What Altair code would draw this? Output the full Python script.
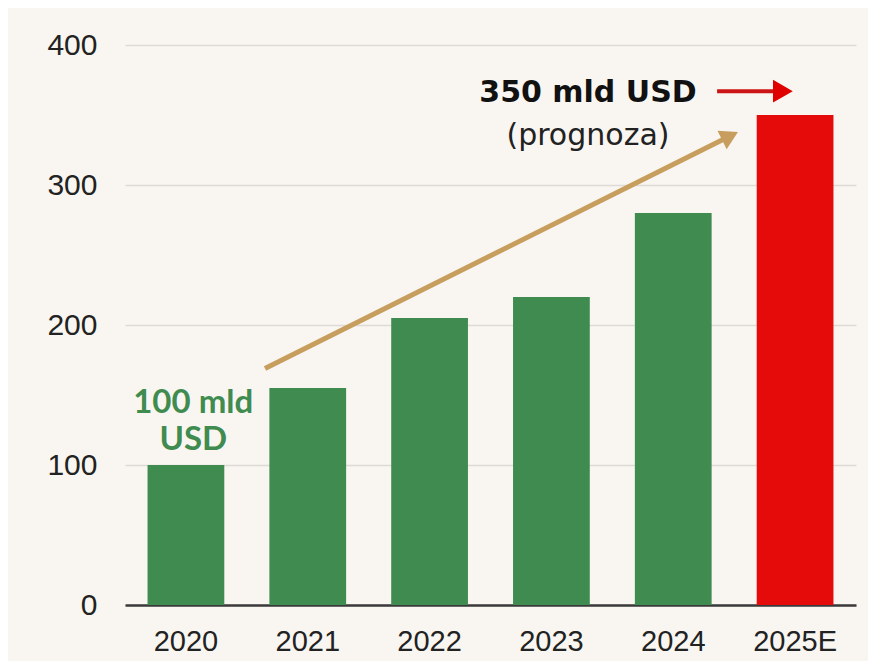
import altair as alt
import pandas as pd

# ---- data ----
years = ["2020", "2021", "2022", "2023", "2024", "2025E"]
values = [100, 155, 205, 220, 280, 350]
bar_colors = ["#3f8b50", "#3f8b50", "#3f8b50", "#3f8b50", "#3f8b50", "#e50b0b"]
y_ticks = [0, 100, 200, 300, 400]

# annotations in category-index units (band i centre = i + 0.5) and value units
green_label_lines = ["100 mld", "USD"]
green_label_x = [0.56, 0.56]
green_label_y = [144, 118]

forecast_label = ["350 mld USD"]
forecast_x = [3.80]
forecast_y = [366]
forecast_sub = ["(prognoza)"]
forecast_sub_x = [3.80]
forecast_sub_y = [335]

trend_x = [1.149, 4.966]
trend_y = [169, 335]
trend_head_x = [4.966]
trend_head_y = [335]

red_arrow_x = [4.86, 5.40]
red_arrow_y = [367, 367]
red_head_x = [5.40]
red_head_y = [367]

BG = "#f9f6f1"

bars_df = pd.DataFrame({"year": years, "value": values, "color": bar_colors})

xq = alt.Scale(domain=[0, 6], nice=False, zero=False)
yq = alt.Scale(domain=[0, 400], nice=False)

y_axis = alt.Axis(title=None, values=y_ticks, labelFont="Liberation Sans, Arial, sans-serif",
                  labelFontSize=30, labelColor="#222", labelPadding=28,
                  ticks=False, domain=False, grid=True, gridColor="#dedbd6", gridWidth=1.5)

bars = alt.Chart(bars_df).mark_bar().encode(
    x=alt.X("year:N", sort=years,
            scale=alt.Scale(paddingInner=0.37, paddingOuter=0.185),
            axis=alt.Axis(title=None, labelAngle=0,
                          labelFont="Liberation Sans Narrow, Arial Narrow, Liberation Sans, sans-serif",
                          labelFontSize=29, labelColor="#222", labelPadding=22,
                          ticks=False, domain=True, domainColor="#3a3a3a", domainWidth=2.5)),
    y=alt.Y("value:Q", scale=yq, axis=y_axis),
    color=alt.Color("color:N", scale=None),
)

def pts(xs, ys, **extra):
    d = {"x": xs, "y": ys}
    d.update(extra)
    return pd.DataFrame(d)

def enc_x():
    return alt.X("x:Q", scale=xq, axis=None)

def enc_y():
    return alt.Y("y:Q", scale=yq, axis=y_axis)

trend_line = alt.Chart(pts(trend_x, trend_y)).mark_line(color="#c79e5e", strokeWidth=5).encode(
    x=enc_x(), y=enc_y())
trend_head = alt.Chart(pts(trend_head_x, trend_head_y)).mark_point(
    shape="triangle-right", filled=True, size=420, angle=333.5, color="#c79e5e", opacity=1).encode(
    x=enc_x(), y=enc_y())

red_line = alt.Chart(pts(red_arrow_x, red_arrow_y)).mark_line(color="#cc1414", strokeWidth=4).encode(
    x=enc_x(), y=enc_y())
red_head = alt.Chart(pts(red_head_x, red_head_y)).mark_point(
    shape="triangle-right", filled=True, size=520, color="#e00000", opacity=1).encode(
    x=enc_x(), y=enc_y())

green_text = alt.Chart(pts(green_label_x, green_label_y, t=green_label_lines)).mark_text(
    font="Lato", fontWeight="bold", fontSize=33, color="#3f8b50", align="center", baseline="middle").encode(
    x=enc_x(), y=enc_y(), text="t:N")

forecast_text = alt.Chart(pts(forecast_x, forecast_y, t=forecast_label)).mark_text(
    font="DejaVu Sans", fontWeight="bold", fontSize=30, color="#111", align="center", baseline="middle").encode(
    x=enc_x(), y=enc_y(), text="t:N")

forecast_sub_text = alt.Chart(pts(forecast_sub_x, forecast_sub_y, t=forecast_sub)).mark_text(
    font="DejaVu Sans", fontSize=30, color="#222", align="center", baseline="middle").encode(
    x=enc_x(), y=enc_y(), text="t:N")

chart = alt.layer(
    bars, trend_line, trend_head, red_line, red_head, green_text, forecast_text, forecast_sub_text
).resolve_scale(x="independent").properties(
    width=731, height=560,
    autosize=alt.AutoSizeParams(type="none"),
    padding={"left": 117, "top": 37, "right": 12, "bottom": 56},
    background=BG,
).configure_view(stroke=None)

chart.save("out.html", embed_options={"renderer": "svg", "actions": False})
